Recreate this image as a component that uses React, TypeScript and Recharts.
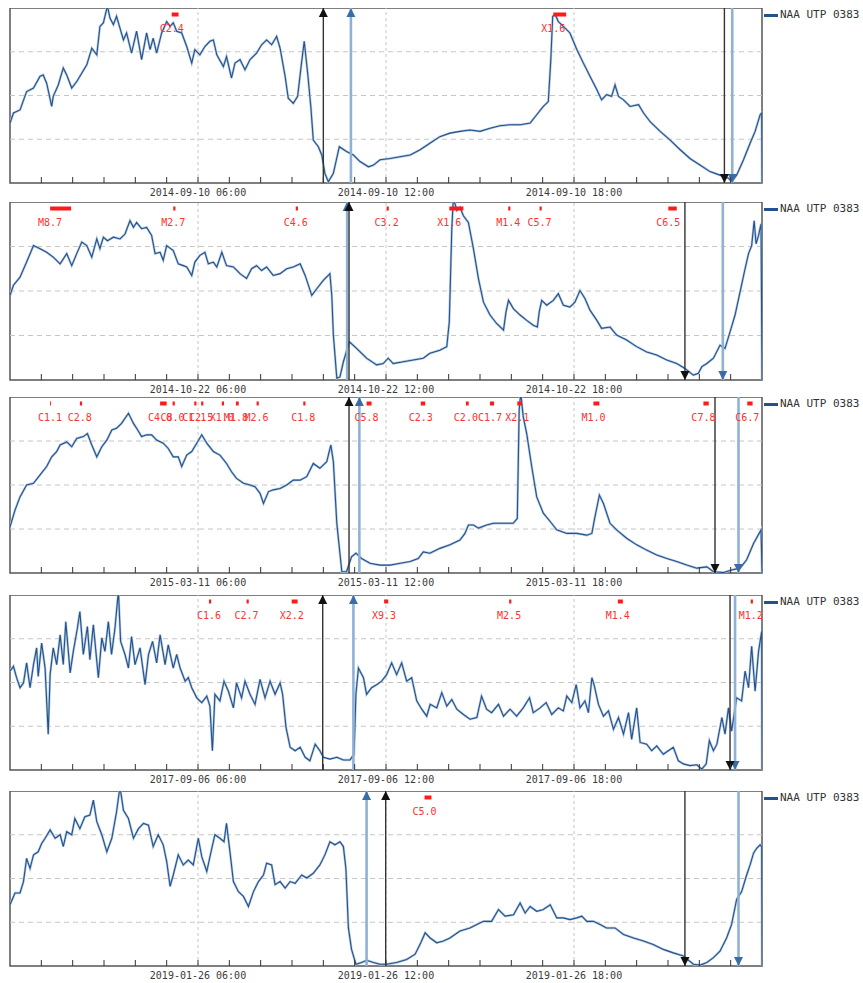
import React from "react";
import {
  LineChart,
  Line,
  XAxis,
  YAxis,
  ReferenceLine,
  ReferenceDot,
  ReferenceArea,
} from "recharts";

type Pt = [number, number];
type Flare = [number, number, string];
type Term = [number, "k" | "b", "up" | "down"];

const DATES = ["2014-09-10", "2014-10-22", "2015-03-11", "2017-09-06", "2019-01-26"];
const HOUR_TICKS = [1, 2, 3, 4, 5, 6, 7, 8, 9, 10, 11, 12, 13, 14, 15, 16, 17, 18, 19, 20, 21, 22, 23];
const LABEL_HOURS = [6, 12, 18];
const GRID_LEVELS = [1, 2, 3];
const STATION = "NAA UTP 0383";

// signal amplitude (hour of day, relative level 0..4)
const SIGNAL_1: Pt[] = [
  [0, 1.37], [0.11, 1.6], [0.32, 1.67], [0.53, 2.09], [0.75, 2.17], [0.96, 2.44], [1.06, 2.47], [1.17, 2.28],
  [1.33, 1.75], [1.38, 1.98], [1.54, 2.24], [1.7, 2.63], [1.81, 2.47], [1.97, 2.17], [2.13, 2.32], [2.29, 2.51],
  [2.45, 2.7], [2.61, 3.08], [2.77, 2.93], [2.87, 3.58], [2.98, 3.66], [3.11, 4.05], [3.19, 3.77], [3.3, 3.62],
  [3.4, 3.81], [3.51, 3.54], [3.62, 3.27], [3.72, 3.43], [3.88, 2.97], [4.04, 3.47], [4.2, 2.82], [4.36, 3.43],
  [4.47, 3.05], [4.57, 3.31], [4.68, 2.97], [4.84, 3.43], [5.0, 3.69], [5.11, 3.58], [5.21, 3.66], [5.32, 3.47],
  [5.48, 3.43], [5.64, 3.12], [5.8, 2.74], [5.9, 3.05], [6.06, 2.93], [6.22, 3.12], [6.38, 3.24], [6.49, 3.27],
  [6.6, 2.93], [6.81, 2.66], [6.91, 2.89], [7.07, 2.4], [7.18, 2.74], [7.34, 2.82], [7.5, 2.59], [7.66, 2.82],
  [7.87, 2.97], [8.03, 3.16], [8.19, 3.27], [8.35, 3.16], [8.51, 3.35], [8.62, 3.08], [8.78, 2.44], [8.88, 1.94],
  [9.04, 1.82], [9.18, 1.98], [9.29, 2.66], [9.39, 3.24], [9.5, 2.51], [9.6, 1.75], [9.68, 0.98], [9.84, 0.83],
  [9.95, 0.64], [10.05, 0.22], [10.16, 0.03], [10.32, 0.22], [10.51, 0.83], [10.74, 0.72], [10.96, 0.64],
  [11.17, 0.49], [11.44, 0.37], [11.6, 0.41], [11.81, 0.53], [12.13, 0.56], [12.45, 0.6], [12.77, 0.64],
  [13.09, 0.76], [13.4, 0.91], [13.72, 1.06], [14.04, 1.14], [14.36, 1.18], [14.68, 1.21], [15.0, 1.18],
  [15.32, 1.25], [15.64, 1.31], [15.96, 1.33], [16.28, 1.33], [16.6, 1.37], [16.81, 1.56], [17.02, 1.75],
  [17.18, 1.86], [17.26, 2.82], [17.32, 3.81], [17.4, 3.85], [17.5, 3.69], [17.66, 3.58], [17.87, 3.43],
  [18.09, 3.05], [18.3, 2.74], [18.51, 2.44], [18.73, 2.13], [18.88, 1.9], [19.04, 2.02], [19.2, 1.98],
  [19.31, 2.24], [19.42, 1.98], [19.58, 1.9], [19.79, 1.75], [20.06, 1.79], [20.22, 1.6], [20.43, 1.4],
  [20.75, 1.18], [21.07, 0.98], [21.39, 0.76], [21.7, 0.56], [22.02, 0.41], [22.34, 0.26], [22.66, 0.18],
  [22.93, 0.11], [23.03, 0.03], [23.19, 0.18], [23.41, 0.53], [23.62, 0.91], [23.78, 1.18], [23.94, 1.56],
  [23.99, 1.6], [24, 0],
];

const SIGNAL_2: Pt[] = [
  [0, 1.9], [0.11, 2.13], [0.32, 2.31], [0.53, 2.65], [0.75, 3.02], [0.96, 2.95], [1.17, 2.87], [1.38, 2.76],
  [1.6, 2.61], [1.81, 2.84], [1.97, 2.57], [2.13, 2.84], [2.29, 3.1], [2.45, 3.02], [2.61, 2.76], [2.77, 3.17],
  [2.87, 2.95], [2.98, 3.21], [3.11, 3.13], [3.3, 3.21], [3.51, 3.17], [3.67, 3.28], [3.83, 3.58], [3.94, 3.43],
  [4.04, 3.54], [4.2, 3.4], [4.36, 3.43], [4.52, 3.25], [4.63, 2.84], [4.79, 2.87], [4.89, 2.69], [5.0, 3.02],
  [5.21, 2.91], [5.37, 2.61], [5.53, 2.57], [5.64, 2.54], [5.8, 2.35], [5.9, 2.65], [6.06, 2.8], [6.22, 2.87],
  [6.33, 2.61], [6.49, 2.65], [6.6, 2.54], [6.76, 2.87], [6.91, 2.57], [7.13, 2.54], [7.34, 2.39], [7.55, 2.28],
  [7.71, 2.5], [7.87, 2.57], [8.03, 2.46], [8.19, 2.54], [8.4, 2.35], [8.62, 2.39], [8.83, 2.5], [9.04, 2.54],
  [9.26, 2.61], [9.42, 2.35], [9.63, 1.9], [9.79, 2.05], [10.0, 2.24], [10.21, 2.39], [10.27, 1.9], [10.32, 1.01],
  [10.43, 0.04], [10.53, 0.07], [10.64, 0.41], [10.83, 0.86], [11.06, 0.71], [11.38, 0.49], [11.7, 0.34],
  [11.91, 0.37], [12.07, 0.49], [12.23, 0.37], [12.55, 0.41], [12.87, 0.45], [13.19, 0.49], [13.4, 0.6],
  [13.72, 0.67], [13.94, 0.75], [14.02, 1.31], [14.1, 3.4], [14.15, 4.1], [14.26, 3.81], [14.36, 3.88],
  [14.47, 3.69], [14.63, 3.54], [14.79, 2.95], [14.95, 2.28], [15.11, 1.75], [15.32, 1.46], [15.53, 1.27],
  [15.75, 1.12], [15.83, 1.53], [15.91, 1.79], [16.07, 1.6], [16.28, 1.46], [16.49, 1.34], [16.7, 1.23],
  [16.83, 1.19], [16.89, 1.53], [16.97, 1.79], [17.13, 1.68], [17.34, 1.79], [17.5, 1.94], [17.66, 1.68],
  [17.87, 1.64], [18.03, 1.75], [18.19, 2.01], [18.35, 1.83], [18.51, 1.57], [18.73, 1.34], [18.88, 1.16],
  [19.15, 1.19], [19.36, 1.01], [19.68, 0.9], [20.0, 0.75], [20.32, 0.63], [20.64, 0.56], [20.96, 0.45],
  [21.28, 0.37], [21.54, 0.26], [21.81, 0.11], [21.97, 0.15], [22.08, 0.3], [22.24, 0.37], [22.45, 0.49],
  [22.66, 0.78], [22.82, 0.71], [22.98, 1.08], [23.14, 1.46], [23.3, 1.98], [23.46, 2.5], [23.57, 2.84],
  [23.67, 3.02], [23.75, 3.58], [23.81, 3.06], [23.89, 3.25], [23.97, 3.51], [24, 0],
];

const SIGNAL_3: Pt[] = [
  [0, 1.05], [0.16, 1.43], [0.32, 1.73], [0.53, 2.0], [0.75, 2.04], [0.96, 2.23], [1.17, 2.42], [1.33, 2.64],
  [1.49, 2.76], [1.6, 2.91], [1.81, 2.98], [1.97, 2.87], [2.13, 3.06], [2.34, 3.1], [2.47, 3.17], [2.61, 2.91],
  [2.77, 2.64], [2.93, 2.87], [3.09, 3.02], [3.25, 3.25], [3.4, 3.29], [3.56, 3.4], [3.78, 3.63], [3.94, 3.4],
  [4.04, 3.29], [4.2, 3.1], [4.36, 3.14], [4.52, 3.14], [4.68, 3.02], [4.89, 2.95], [5.05, 2.83], [5.21, 2.64],
  [5.37, 2.64], [5.48, 2.42], [5.64, 2.68], [5.8, 2.76], [5.96, 2.95], [6.12, 3.14], [6.28, 2.95], [6.49, 2.76],
  [6.7, 2.68], [6.91, 2.49], [7.07, 2.3], [7.23, 2.15], [7.45, 2.04], [7.66, 2.0], [7.82, 1.96], [7.98, 1.81],
  [8.09, 1.58], [8.25, 1.85], [8.4, 1.89], [8.62, 1.92], [8.83, 2.0], [9.04, 2.11], [9.26, 2.11], [9.47, 2.19],
  [9.68, 2.49], [9.89, 2.38], [10.11, 2.53], [10.24, 2.91], [10.32, 2.53], [10.43, 1.13], [10.59, 0.03],
  [10.74, 0.03], [10.9, 0.37], [11.04, 0.45], [11.22, 0.33], [11.49, 0.22], [11.81, 0.18], [12.13, 0.18],
  [12.45, 0.22], [12.77, 0.26], [13.03, 0.33], [13.19, 0.48], [13.4, 0.45], [13.72, 0.56], [14.04, 0.64],
  [14.36, 0.75], [14.52, 0.9], [14.63, 1.09], [14.79, 1.09], [14.95, 1.02], [15.21, 1.09], [15.43, 1.13],
  [15.75, 1.13], [16.06, 1.13], [16.19, 1.24], [16.25, 3.7], [16.3, 4.1], [16.38, 3.55], [16.49, 3.17],
  [16.65, 2.42], [16.81, 1.73], [17.02, 1.36], [17.24, 1.17], [17.45, 0.98], [17.77, 0.9], [18.09, 0.9],
  [18.41, 0.86], [18.57, 0.9], [18.67, 1.28], [18.81, 1.77], [18.94, 1.58], [19.15, 1.13], [19.36, 0.98],
  [19.68, 0.79], [20.0, 0.64], [20.32, 0.52], [20.64, 0.41], [20.96, 0.33], [21.28, 0.26], [21.6, 0.18],
  [21.92, 0.11], [22.24, 0.14], [22.45, 0.03], [22.77, 0.01], [23.03, 0.07], [23.3, 0.11], [23.51, 0.3],
  [23.73, 0.67], [23.97, 0.98], [24, 0],
];

const SIGNAL_4: Pt[] = [
  [0, 2.26], [0.11, 2.37], [0.21, 2.11], [0.32, 1.88], [0.43, 1.99], [0.53, 2.45], [0.64, 1.88], [0.75, 2.41],
  [0.85, 2.79], [0.9, 2.14], [1.01, 2.9], [1.12, 2.33], [1.22, 0.82], [1.28, 2.18], [1.38, 2.79], [1.49, 2.41],
  [1.6, 3.09], [1.7, 2.41], [1.78, 3.39], [1.92, 2.22], [2.02, 2.71], [2.15, 3.24], [2.23, 3.62], [2.34, 2.64],
  [2.47, 3.28], [2.55, 2.52], [2.66, 3.32], [2.82, 2.11], [2.93, 3.02], [3.03, 2.71], [3.14, 3.39], [3.24, 2.64],
  [3.35, 3.24], [3.46, 4.1], [3.53, 2.94], [3.67, 2.64], [3.78, 2.33], [3.88, 3.05], [3.99, 2.41], [4.15, 2.79],
  [4.31, 1.95], [4.42, 2.64], [4.55, 2.94], [4.68, 2.45], [4.79, 3.09], [4.95, 2.41], [5.05, 2.86], [5.21, 2.33],
  [5.32, 2.64], [5.43, 2.33], [5.59, 2.03], [5.69, 2.11], [5.8, 1.88], [5.96, 1.65], [6.12, 1.54], [6.28, 1.69],
  [6.38, 1.46], [6.46, 0.44], [6.54, 1.73], [6.7, 1.58], [6.83, 2.03], [6.97, 1.8], [7.13, 1.42], [7.23, 1.99],
  [7.39, 1.65], [7.5, 2.03], [7.66, 1.73], [7.82, 1.5], [7.98, 2.07], [8.14, 1.65], [8.3, 2.03], [8.46, 1.73],
  [8.62, 1.99], [8.7, 1.73], [8.81, 0.97], [8.94, 0.52], [9.1, 0.44], [9.26, 0.52], [9.42, 0.29], [9.57, 0.21],
  [9.74, 0.59], [9.89, 0.44], [10.0, 0.29], [10.21, 0.25], [10.43, 0.29], [10.64, 0.23], [10.85, 0.23],
  [10.98, 0.36], [11.04, 1.73], [11.12, 2.33], [11.28, 2.11], [11.38, 1.73], [11.54, 1.88], [11.7, 1.95],
  [11.86, 2.03], [12.02, 2.18], [12.18, 2.45], [12.34, 2.18], [12.5, 2.45], [12.66, 2.03], [12.82, 2.11],
  [12.98, 1.58], [13.14, 1.39], [13.3, 1.23], [13.41, 1.5], [13.62, 1.42], [13.78, 1.77], [13.94, 1.46],
  [14.1, 1.61], [14.26, 1.39], [14.47, 1.27], [14.68, 1.16], [14.9, 1.2], [15.05, 1.69], [15.21, 1.39],
  [15.37, 1.31], [15.59, 1.5], [15.75, 1.23], [15.96, 1.39], [16.17, 1.23], [16.38, 1.42], [16.58, 1.65],
  [16.7, 1.31], [16.92, 1.42], [17.11, 1.54], [17.29, 1.27], [17.5, 1.42], [17.66, 1.35], [17.77, 1.69],
  [17.93, 1.54], [18.07, 1.95], [18.19, 1.42], [18.35, 1.58], [18.46, 1.31], [18.57, 2.11], [18.64, 1.95],
  [18.78, 1.5], [18.94, 1.23], [19.1, 1.35], [19.26, 0.93], [19.42, 1.2], [19.58, 0.82], [19.74, 1.31],
  [19.84, 0.7], [20.0, 1.42], [20.11, 0.63], [20.32, 0.59], [20.48, 0.44], [20.64, 0.55], [20.85, 0.36],
  [21.01, 0.44], [21.17, 0.52], [21.33, 0.21], [21.49, 0.14], [21.7, 0.1], [21.92, 0.12], [22.08, 0.02],
  [22.22, 0.14], [22.32, 0.67], [22.45, 0.44], [22.56, 0.59], [22.72, 1.2], [22.82, 0.82], [22.93, 1.42],
  [23.03, 0.89], [23.19, 1.65], [23.35, 1.58], [23.46, 2.26], [23.57, 1.88], [23.67, 2.83], [23.78, 1.8],
  [23.89, 2.71], [23.99, 3.17], [24, 0],
];

const SIGNAL_5: Pt[] = [
  [0, 1.4], [0.16, 1.67], [0.32, 1.67], [0.43, 1.93], [0.53, 2.46], [0.64, 2.23], [0.75, 2.54], [0.9, 2.61],
  [1.01, 2.8], [1.12, 2.92], [1.28, 3.11], [1.44, 2.92], [1.6, 3.0], [1.7, 2.73], [1.81, 3.07], [1.97, 3.0],
  [2.07, 3.37], [2.23, 3.14], [2.39, 3.41], [2.55, 3.45], [2.66, 3.79], [2.77, 3.3], [2.93, 3.0], [3.09, 2.61],
  [3.25, 2.92], [3.4, 3.52], [3.51, 4.1], [3.62, 3.56], [3.78, 3.37], [3.94, 2.92], [4.1, 3.14], [4.26, 3.26],
  [4.42, 3.22], [4.57, 2.73], [4.73, 3.0], [4.89, 2.77], [5.0, 2.39], [5.11, 1.82], [5.21, 2.08], [5.37, 2.54],
  [5.53, 2.31], [5.69, 2.42], [5.85, 2.31], [6.01, 2.92], [6.12, 2.5], [6.28, 2.16], [6.44, 2.69], [6.54, 3.0],
  [6.7, 2.92], [6.83, 2.84], [6.91, 3.26], [7.02, 2.61], [7.13, 1.93], [7.29, 1.7], [7.45, 1.59], [7.61, 1.36],
  [7.77, 1.7], [7.93, 1.93], [8.09, 2.08], [8.19, 2.35], [8.35, 2.31], [8.46, 1.86], [8.62, 1.93], [8.78, 1.78],
  [8.94, 1.93], [9.1, 1.89], [9.31, 2.08], [9.47, 2.01], [9.68, 2.12], [9.89, 2.31], [10.05, 2.54], [10.21, 2.84],
  [10.37, 2.77], [10.53, 2.84], [10.64, 2.73], [10.72, 2.23], [10.8, 0.87], [10.9, 0.38], [11.04, 0.04],
  [11.22, 0.08], [11.38, 0.13], [11.6, 0.08], [11.81, 0.04], [12.02, 0.04], [12.34, 0.08], [12.66, 0.15],
  [12.93, 0.27], [13.11, 0.53], [13.25, 0.76], [13.41, 0.64], [13.62, 0.53], [13.83, 0.57], [14.04, 0.64],
  [14.36, 0.8], [14.68, 0.87], [14.9, 0.95], [15.11, 1.02], [15.37, 1.02], [15.59, 1.29], [15.8, 1.14],
  [16.07, 1.17], [16.28, 1.44], [16.44, 1.21], [16.6, 1.36], [16.81, 1.25], [17.02, 1.29], [17.24, 1.4],
  [17.45, 1.1], [17.66, 1.1], [17.87, 1.06], [18.09, 1.1], [18.25, 1.14], [18.41, 1.02], [18.62, 1.02],
  [18.83, 0.95], [19.04, 0.87], [19.31, 0.87], [19.58, 0.72], [19.9, 0.64], [20.22, 0.57], [20.53, 0.49],
  [20.85, 0.38], [21.17, 0.3], [21.49, 0.23], [21.81, 0.04], [22.02, 0.02], [22.24, 0.08], [22.45, 0.19],
  [22.66, 0.34], [22.87, 0.64], [23.03, 0.95], [23.19, 1.52], [23.35, 1.7], [23.51, 2.08], [23.62, 2.31],
  [23.73, 2.58], [23.83, 2.69], [23.94, 2.77], [23.99, 2.73], [24, 0],
];

// solar flares: start hour, end hour, GOES class
const FLARES_1: Flare[] = [[5.16, 5.38, "C2.4"], [17.34, 17.75, "X1.6"]];
const FLARES_2: Flare[] = [
  [1.28, 1.95, "M8.7"], [5.21, 5.28, "M2.7"], [9.12, 9.19, "C4.6"], [12.02, 12.09, "C3.2"],
  [14.02, 14.47, "X1.6"], [15.9, 15.97, "M1.4"], [16.9, 16.97, "C5.7"], [21.01, 21.28, "C6.5"],
];
const FLARES_3: Flare[] = [
  [1.28, 1.31, "C1.1"], [2.23, 2.3, "C2.8"], [4.79, 5.0, "C4.0"], [5.19, 5.26, "C8.0"], [5.88, 5.95, "C1.1"],
  [6.1, 6.17, "C2.5"], [6.76, 6.83, "X1.0"], [7.21, 7.3, "M1.8"], [7.87, 7.94, "M2.6"], [9.36, 9.43, "C1.8"],
  [11.38, 11.54, "C5.8"], [13.11, 13.25, "C2.3"], [14.55, 14.64, "C2.0"], [15.32, 15.45, "C1.7"],
  [16.19, 16.34, "X2.1"], [18.62, 18.81, "M1.0"], [22.13, 22.3, "C7.8"], [23.53, 23.7, "C6.7"],
];
const FLARES_4: Flare[] = [
  [6.35, 6.42, "C1.6"], [7.55, 7.62, "C2.7"], [8.99, 9.18, "X2.2"], [11.94, 12.07, "X9.3"],
  [15.93, 16.0, "M2.5"], [19.4, 19.56, "M1.4"], [23.64, 23.71, "M1.2"],
];
const FLARES_5: Flare[] = [[13.23, 13.45, "C5.0"]];

// terminator crossings: hour, black/blue, arrow direction
const TERMS_1: Term[] = [[10.88, "b", "up"], [10.0, "k", "up"], [23.05, "b", "down"], [22.8, "k", "down"]];
const TERMS_2: Term[] = [[10.76, "b", "up"], [10.82, "k", "up"], [22.75, "b", "down"], [21.54, "k", "down"]];
const TERMS_3: Term[] = [[11.15, "b", "up"], [10.82, "k", "up"], [23.25, "b", "down"], [22.5, "k", "down"]];
const TERMS_4: Term[] = [[10.96, "b", "up"], [9.98, "k", "up"], [23.14, "b", "down"], [22.98, "k", "down"]];
const TERMS_5: Term[] = [[11.38, "b", "up"], [11.99, "k", "up"], [23.25, "b", "down"], [21.54, "k", "down"]];

const W = 863;
const PLOT_LEFT = 10;
const PLOT_RIGHT = 762;
const AXIS_H = 22;
const MONO = "'DejaVu Sans Mono', monospace";
const LINE_COLOR = "#23528b";

const PANELS = [
  { date: DATES[0], signal: SIGNAL_1, flares: FLARES_1, terms: TERMS_1, top: 8, plotH: 175 },
  { date: DATES[1], signal: SIGNAL_2, flares: FLARES_2, terms: TERMS_2, top: 202, plotH: 178 },
  { date: DATES[2], signal: SIGNAL_3, flares: FLARES_3, terms: TERMS_3, top: 397, plotH: 176 },
  { date: DATES[3], signal: SIGNAL_4, flares: FLARES_4, terms: TERMS_4, top: 595, plotH: 175 },
  { date: DATES[4], signal: SIGNAL_5, flares: FLARES_5, terms: TERMS_5, top: 791, plotH: 175 },
];

function HourTick(props: any) {
  const { x, y, payload, date } = props;
  const hv = payload.value;
  return (
    <g>
      <line x1={x} x2={x} y1={y - 6} y2={y} stroke="#333" strokeWidth={1} />
      {LABEL_HOURS.includes(hv) && (
        <text x={x} y={y + 13} textAnchor="middle" fontFamily={MONO} fontSize={10} fill="#3a3a3a">
          {`${date} ${String(hv).padStart(2, "0")}:00`}
        </text>
      )}
    </g>
  );
}

function Arrow({ cx, cy, up, color }: { cx: number; cy: number; up: boolean; color: string }) {
  const b = up ? cy + 9 : cy - 9;
  return <polygon points={`${cx},${cy} ${cx - 4.5},${b} ${cx + 4.5},${b}`} fill={color} />;
}

function Panel({ date, signal, flares, terms, top, plotH }: any) {
  const data = signal.map(([h, v]: Pt) => ({ h, v }));
  const barY = 4 - (6.5 * 4) / plotH;
  const height = plotH + AXIS_H;

  return (
    <div style={{ position: "absolute", left: 0, top, width: W, height }}>
      <LineChart
        width={W}
        height={height}
        data={data}
        margin={{ top: 0, right: W - PLOT_RIGHT, bottom: 0, left: PLOT_LEFT }}
      >
        <XAxis
          dataKey="h"
          type="number"
          domain={[0, 24]}
          ticks={HOUR_TICKS}
          interval={0}
          axisLine={false}
          tickLine={false}
          tickSize={0}
          tickMargin={0}
          height={AXIS_H}
          allowDataOverflow
          tick={(p: any) => <HourTick {...p} date={date} />}
        />
        <YAxis type="number" domain={[0, 4]} hide allowDataOverflow />

        {GRID_LEVELS.map((g) => (
          <ReferenceLine key={"gy" + g} y={g} stroke="#c6c6c6" strokeDasharray="5 4" />
        ))}
        {LABEL_HOURS.map((h) => (
          <ReferenceLine key={"gx" + h} x={h} stroke="#c6c6c6" strokeDasharray="3 3" />
        ))}

        <Line dataKey="v" stroke="#b3c8e1" strokeWidth={2.4} dot={false} isAnimationActive={false} />
        <Line dataKey="v" stroke={LINE_COLOR} strokeWidth={1.1} dot={false} isAnimationActive={false} />

        {terms.map(([h, c]: Term, i: number) => (
          <ReferenceLine
            key={"tl" + i}
            x={h}
            stroke={c === "k" ? "#333" : "#8fb1d5"}
            strokeWidth={c === "k" ? 1.4 : 2.6}
          />
        ))}
        {terms.map(([h, c, dir]: Term, i: number) => (
          <ReferenceDot
            key={"ta" + i}
            x={h}
            y={dir === "up" ? 4 : 0}
            ifOverflow="visible"
            shape={(p: any) => (
              <Arrow cx={p.cx} cy={p.cy} up={dir === "up"} color={c === "k" ? "#111" : "#3a6da6"} />
            )}
          />
        ))}

        {flares.map(([s, e]: Flare, i: number) => (
          <ReferenceLine
            key={"fb" + i}
            segment={[{ x: s, y: barY }, { x: e, y: barY }]}
            stroke="#ff1a1a"
            strokeWidth={4}
            ifOverflow="visible"
          />
        ))}
        {flares.map(([s, , label]: Flare, i: number) => (
          <ReferenceDot
            key={"fl" + i}
            x={s}
            y={4}
            ifOverflow="visible"
            shape={(p: any) => (
              <text x={p.cx} y={p.cy + 24} textAnchor="middle" fontFamily={MONO} fontSize={10} fill="#ff3030">
                {label}
              </text>
            )}
          />
        ))}

        <ReferenceArea x1={0} x2={24} y1={0} y2={4} fill="none" stroke="#555" strokeWidth={1.5} ifOverflow="visible" />
      </LineChart>

      <div
        style={{
          position: "absolute",
          left: 764,
          top: 0,
          display: "flex",
          alignItems: "center",
          fontFamily: MONO,
          fontSize: 11,
          lineHeight: "14px",
          color: "#333",
          whiteSpace: "nowrap",
        }}
      >
        <span style={{ display: "inline-block", width: 14, height: 3, background: LINE_COLOR, marginRight: 2 }} />
        {STATION}
      </div>
    </div>
  );
}

export default function App() {
  return (
    <div style={{ position: "absolute", left: 0, top: 0, width: W, height: 983, background: "#fff" }}>
      {PANELS.map((p, i) => (
        <Panel key={i} {...p} />
      ))}
    </div>
  );
}
